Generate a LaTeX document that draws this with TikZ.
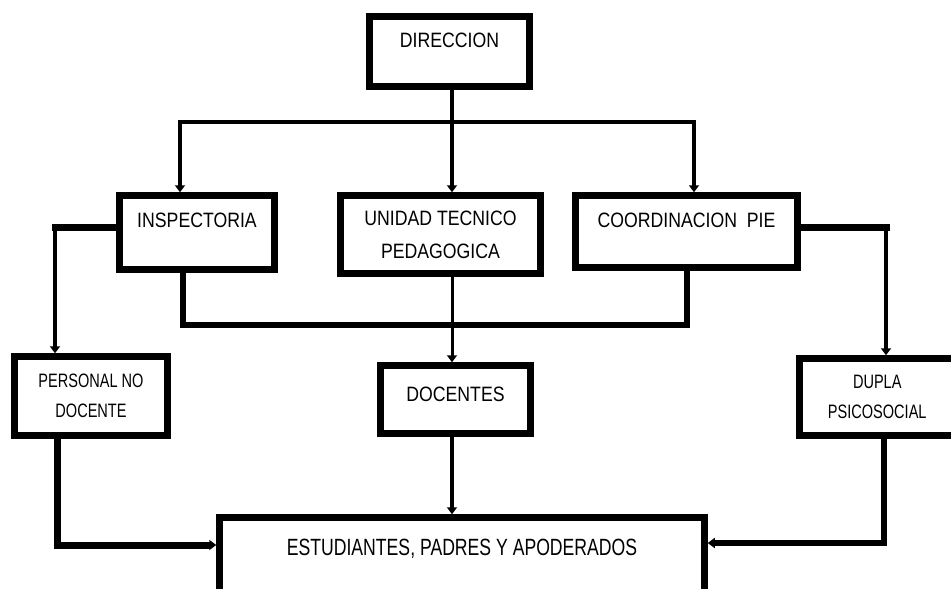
\documentclass[tikz,border=0pt]{standalone}
\usepackage{fontspec}
\usepackage{tikz}
\usetikzlibrary{arrows.meta}

\newfontfamily\orgfont[FakeStretch=0.85]{Liberation Sans}
\newfontfamily\orgnarrow[FakeStretch=0.75]{Liberation Sans}

\begin{document}
\begin{tikzpicture}[x=1pt,y=-1pt]
\tikzset{ >={Triangle[length=7pt,width=10pt]}, inner sep=0pt, }
\tikzset{ box/.style={draw, rectangle, line width=6.5pt, align=center,
                      font=\orgfont\fontsize{20.8}{33}\selectfont},
          smallbox/.style={box, font=\orgnarrow\fontsize{19.4}{30}\selectfont},
        }

\useasboundingbox (0,0) rectangle (951,589);

%\draw [lightgray, dashed](0,0) grid [step=50] (951,589);

\node [box, minimum width=160, minimum height=70, text depth=23] (dir) at (449.5,51.5) {DIRECCION};

\node [box, minimum width=155, minimum height=74, text depth=25] (ins) at (197,232.5) {INSPECTORIA};
\node [box, minimum width=200, minimum height=78] (utp) at (440.5,234.5) {UNIDAD TECNICO\\PEDAGOGICA};
\node [box, minimum width=222, minimum height=72, text depth=23] (coord) at (686.5,231.5) {COORDINACION\ \ PIE};

\node [smallbox, minimum width=153, minimum height=79] (pnd) at (91,396) {PERSONAL NO\\DOCENTE};
\node [box, minimum width=150, minimum height=68, text depth=11] (doc) at (455.5,399.5) {DOCENTES};
\node [smallbox, minimum width=155.5, minimum height=77] (dupla) at (877.25,397) {DUPLA\\PSICOSOCIAL};

\node [box, minimum width=485, minimum height=83, text depth=24,
       font=\orgnarrow\fontsize{23.5}{28}\selectfont] (est) at (462,559) {ESTUDIANTES, PADRES Y APODERADOS};

\coordinate (bus)  at (452,122);
\coordinate (busL) at (180,122);
\coordinate (busR) at (694,122);
\coordinate (insL) at (55,227);
\coordinate (lowL) at (183,325);
\coordinate (lowR) at (687,325);
\coordinate (coordR) at (886,227);
\coordinate (pndB) at (57,545);
\coordinate (dupB) at (884,543);

% direccion
\draw [->, line width=4pt] (bus |- dir.south) -- (bus |- utp.north);
\draw [->, line width=4pt] (bus) -| (busL |- ins.north);
\draw [->, line width=4pt] (bus) -| (busR |- coord.north);

% segundo nivel
\draw [line width=7pt, line cap=rect] (insL -| ins.west) -- (insL);
\draw [->, line width=4pt] (insL) -- (insL |- pnd.north);
\draw [line width=6pt] (lowL |- ins.south) -- (lowL) -- (lowR) -- (lowR |- coord.south);
\draw [->, line width=3pt] (bus |- utp.south) -- (bus |- doc.north);
\draw [line width=7pt, line cap=rect] (coordR -| coord.east) -- (coordR);
\draw [->, line width=4.5pt] (coordR) -- (coordR |- dupla.north);

% estudiantes
\draw [->, line width=7pt] (pndB |- pnd.south) -- (pndB) -- (pndB -| est.west);
\draw [->, line width=4pt] (bus |- doc.south) -- (bus |- est.north);
\draw [->, line width=6pt] (dupB |- dupla.south) -- (dupB) -- (dupB -| est.east);

\end{tikzpicture}
\end{document}
